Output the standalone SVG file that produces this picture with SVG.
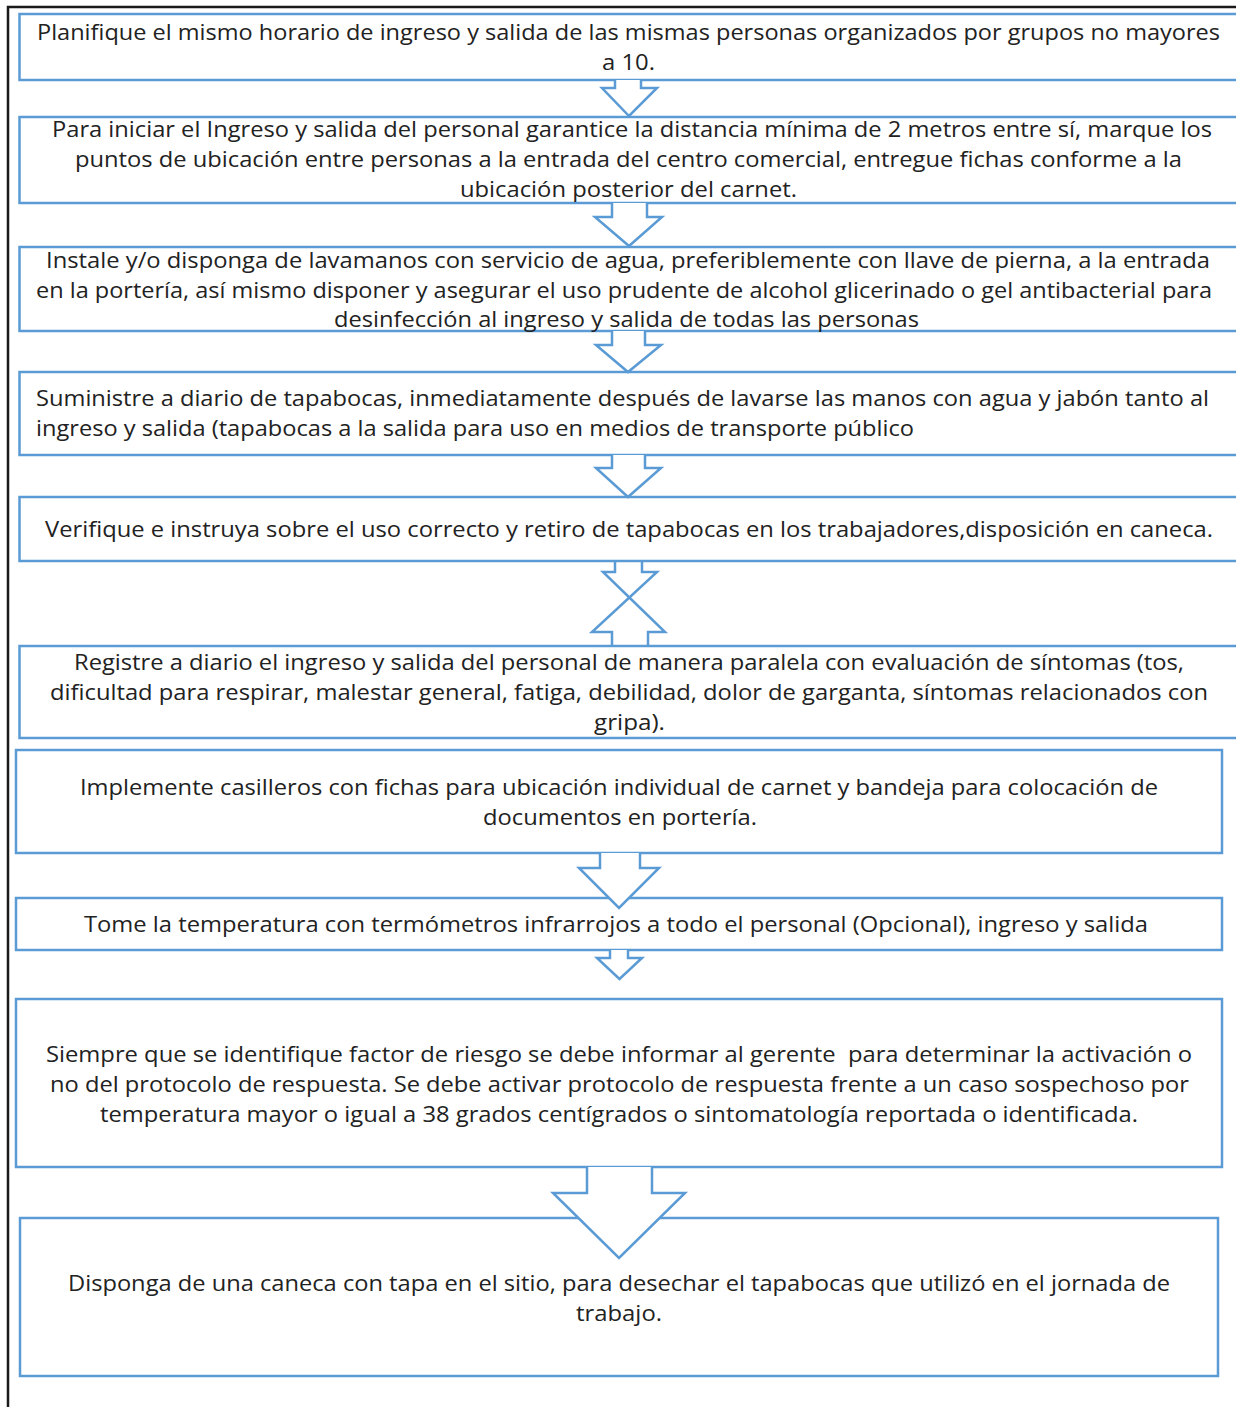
<svg xmlns="http://www.w3.org/2000/svg" width="1236" height="1407" viewBox="0 0 1236 1407">
<style>
.box{fill:#fff;stroke:#5b9bd5;stroke-width:2.5}
.arr{fill:#fff;stroke:#5b9bd5;stroke-width:2.5;stroke-linejoin:miter}
.frame{fill:none;stroke:#1a1a1a;stroke-width:2.5}
text{font-family:"Open Sans","Noto Sans","Liberation Sans",sans-serif;font-size:22px;fill:#222}
</style>
<rect width="1236" height="1407" fill="#fff"/>
<g id="frame">
<polyline class="frame" points="8,1407 8,7 1240,7"/>
</g>
<g id="n1"><rect class="box" x="19.5" y="14" width="1230" height="66"/>
<text x="37" y="40" textLength="1183" lengthAdjust="spacingAndGlyphs">Planifique el mismo horario de ingreso y salida de las mismas personas organizados por grupos no mayores</text>
<text x="602" y="70" textLength="53" lengthAdjust="spacingAndGlyphs">a 10.</text></g>
<g id="n2"><rect class="box" x="19.5" y="117" width="1230" height="86"/>
<text x="52" y="137" textLength="1160" lengthAdjust="spacingAndGlyphs">Para iniciar el Ingreso y salida del personal garantice la distancia mínima de 2 metros entre sí, marque los</text>
<text x="75" y="167" textLength="1107" lengthAdjust="spacingAndGlyphs">puntos de ubicación entre personas a la entrada del centro comercial, entregue fichas conforme a la</text>
<text x="460" y="197" textLength="337" lengthAdjust="spacingAndGlyphs">ubicación posterior del carnet.</text></g>
<g id="n3"><rect class="box" x="19.5" y="247" width="1230" height="84"/>
<text x="46" y="268" textLength="1164" lengthAdjust="spacingAndGlyphs">Instale y/o disponga de lavamanos con servicio de agua, preferiblemente con llave de pierna, a la entrada</text>
<text x="36" y="298" textLength="1176" lengthAdjust="spacingAndGlyphs">en la portería, así mismo disponer y asegurar el uso prudente de alcohol glicerinado o gel antibacterial para</text>
<text x="334" y="327" textLength="585" lengthAdjust="spacingAndGlyphs">desinfección al ingreso y salida de todas las personas</text></g>
<g id="n4"><rect class="box" x="19.5" y="372" width="1230" height="83"/>
<text x="36" y="406" textLength="1173" lengthAdjust="spacingAndGlyphs">Suministre a diario de tapabocas, inmediatamente después de lavarse las manos con agua y jabón tanto al</text>
<text x="36" y="436" textLength="878" lengthAdjust="spacingAndGlyphs">ingreso y salida (tapabocas a la salida para uso en medios de transporte público</text></g>
<g id="n5"><rect class="box" x="19.5" y="497" width="1230" height="64"/>
<text x="45" y="537" textLength="1168" lengthAdjust="spacingAndGlyphs">Verifique e instruya sobre el uso correcto y retiro de tapabocas en los trabajadores,disposición en caneca.</text></g>
<g id="n6"><rect class="box" x="19.5" y="646" width="1230" height="92"/>
<text x="74" y="670" textLength="1110" lengthAdjust="spacingAndGlyphs">Registre a diario el ingreso y salida del personal de manera paralela con evaluación de síntomas (tos,</text>
<text x="50" y="700" textLength="1158" lengthAdjust="spacingAndGlyphs">dificultad para respirar, malestar general, fatiga, debilidad, dolor de garganta, síntomas relacionados con</text>
<text x="594" y="730" textLength="71" lengthAdjust="spacingAndGlyphs">gripa).</text></g>
<g id="n7"><rect class="box" x="16" y="750" width="1206" height="103"/>
<text x="80" y="795" textLength="1078" lengthAdjust="spacingAndGlyphs">Implemente casilleros con fichas para ubicación individual de carnet y bandeja para colocación de</text>
<text x="483" y="825" textLength="274" lengthAdjust="spacingAndGlyphs">documentos en portería.</text></g>
<g id="n8"><rect class="box" x="16" y="898" width="1206" height="52"/>
<text x="84" y="932" textLength="1064" lengthAdjust="spacingAndGlyphs">Tome la temperatura con termómetros infrarrojos a todo el personal (Opcional), ingreso y salida</text></g>
<g id="n9"><rect class="box" x="16" y="999" width="1206" height="168"/>
<text x="46" y="1062" textLength="1146" lengthAdjust="spacingAndGlyphs" xml:space="preserve">Siempre que se identifique factor de riesgo se debe informar al gerente  para determinar la activación o</text>
<text x="50" y="1092" textLength="1139" lengthAdjust="spacingAndGlyphs">no del protocolo de respuesta. Se debe activar protocolo de respuesta frente a un caso sospechoso por</text>
<text x="100" y="1122" textLength="1038" lengthAdjust="spacingAndGlyphs">temperatura mayor o igual a 38 grados centígrados o sintomatología reportada o identificada.</text></g>
<g id="n10"><rect class="box" x="20" y="1218" width="1198" height="158"/>
<text x="68" y="1291" textLength="1102" lengthAdjust="spacingAndGlyphs">Disponga de una caneca con tapa en el sitio, para desechar el tapabocas que utilizó en el jornada de</text>
<text x="576" y="1321" textLength="86" lengthAdjust="spacingAndGlyphs">trabajo.</text></g>
<g id="connectors">
<polyline class="arr" points="615,80 615,88 602,88 629,116 657,88 641,88 641,80"/>
<polyline class="arr" points="612,203 612,217 595,217 629,246 662,217 647,217 647,203"/>
<polyline class="arr" points="612,331 612,345 596,345 628,372 661,345 645,345 645,331"/>
<polyline class="arr" points="612,455 612,468 596,468 628,497 661,468 645,468 645,455"/>
<polyline class="arr" points="615,561 615,572 603,572 665,632 648,632 648,646"/>
<polyline class="arr" points="642,561 642,572 657,572 592,632 612,632 612,646"/>
<polyline class="arr" points="600,853 600,868 579,868 619,908 659,868 640,868 640,853"/>
<polyline class="arr" points="610,950 610,958 597,958 619.5,979 642,958 628,958 628,950"/>
<polyline class="arr" points="587,1167 587,1193 553,1193 619,1258 685,1193 652,1193 652,1167"/>
</g>
</svg>
